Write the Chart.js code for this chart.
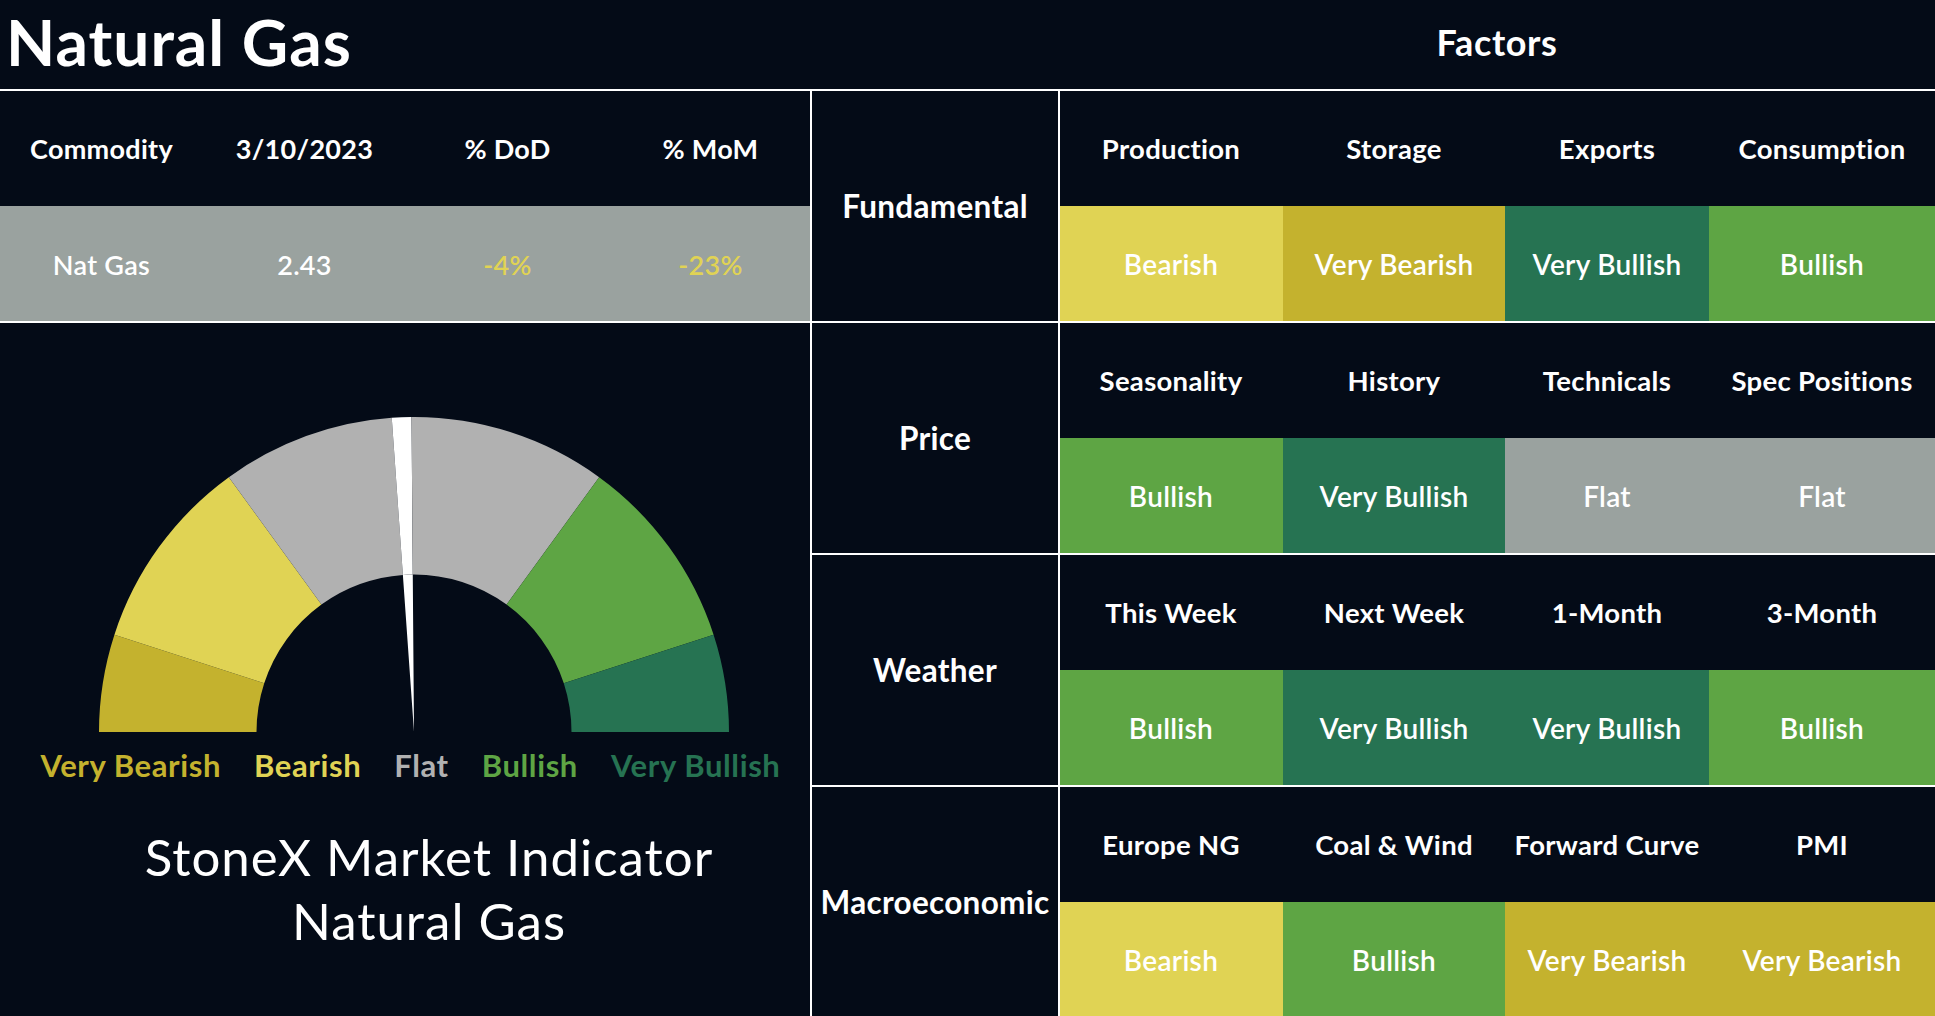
<!DOCTYPE html>
<html>
<head>
<meta charset="utf-8">
<script src="https://cdn.jsdelivr.net/npm/chart.js@4.4.0/dist/chart.umd.min.js"></script>
<style>
html, body { margin: 0; padding: 0; background: #040b17; }
body { width: 1935px; height: 1016px; position: relative; overflow: hidden;
       font-family: Lato, 'Open Sans', sans-serif; color: #fff; }
.cell { position: absolute; display: flex; align-items: center; justify-content: center;
        text-align: center; white-space: nowrap; letter-spacing: 0.3px; }
.line { position: absolute; background: #fff; }
#title { position: absolute; left: 6px; top: 10px; font-size: 64px; line-height: 64px;
         font-weight: 700; letter-spacing: 1px; }
#gaugeBox { position: absolute; left: 99px; top: 417px; width: 630px; height: 315px; }
#gaugeLabels { position: absolute; left: 0; top: 745px; width: 821px; height: 40px;
               display: flex; justify-content: center; align-items: center; gap: 33px;
               font-size: 31px; font-weight: 700; letter-spacing: 0.6px; }
#caption { position: absolute; left: 29px; width: 800px; top: 825px; text-align: center;
           font-size: 51px; line-height: 64px; font-weight: 400; letter-spacing: 1px; }
</style>
</head>
<body>
<div id="title">Natural Gas</div>
<div id="gaugeBox"><canvas id="gauge"></canvas></div>
<div id="gaugeLabels"></div>
<div id="caption">StoneX Market Indicator<br>Natural Gas</div>
<script>
// commodity table
var tableHead = ['Commodity', '3/10/2023', '% DoD', '% MoM'];
var tableRow = ['Nat Gas', '2.43', '-4%', '-23%'];

// factor grid
var categories = ['Fundamental', 'Price', 'Weather', 'Macroeconomic'];
var factorNames = [
  ['Production', 'Storage', 'Exports', 'Consumption'],
  ['Seasonality', 'History', 'Technicals', 'Spec Positions'],
  ['This Week', 'Next Week', '1-Month', '3-Month'],
  ['Europe NG', 'Coal & Wind', 'Forward Curve', 'PMI']
];
var factorSignals = [
  ['Bearish', 'Very Bearish', 'Very Bullish', 'Bullish'],
  ['Bullish', 'Very Bullish', 'Flat', 'Flat'],
  ['Bullish', 'Very Bullish', 'Very Bullish', 'Bullish'],
  ['Bearish', 'Bullish', 'Very Bearish', 'Very Bearish']
];

// gauge
var zoneLabels = ['Very Bearish', 'Bearish', 'Flat', 'Bullish', 'Very Bullish'];
var zoneSizes = [10, 20, 40, 20, 10];
var needleAt = 48.75;
var needleWidth = 2;

var zoneColors = ['#c4b22e', '#e0d354', '#b1b1b1', '#5ea544', '#267352'];
var signalColors = {
  'Very Bearish': '#c4b22e', 'Bearish': '#e0d354', 'Flat': '#9aa29f',
  'Bullish': '#5ea544', 'Very Bullish': '#267352'
};

function box(left, top, w, h, text, css) {
  var d = document.createElement('div');
  d.className = 'cell';
  d.style.left = left + 'px'; d.style.top = top + 'px';
  d.style.width = w + 'px'; d.style.height = h + 'px';
  d.textContent = text;
  for (var k in (css || {})) d.style[k] = css[k];
  document.body.appendChild(d);
  return d;
}
function line(left, top, w, h) {
  var d = document.createElement('div');
  d.className = 'line';
  d.style.left = left + 'px'; d.style.top = top + 'px';
  d.style.width = w + 'px'; d.style.height = h + 'px';
  document.body.appendChild(d);
}

// left table
var colW = 203;
tableHead.forEach(function (t, i) {
  box(i * colW, 91, colW, 115, t, { fontSize: '27px', fontWeight: 700 });
});
box(0, 206, 811, 116, '', { background: '#9aa29f' });
tableRow.forEach(function (t, i) {
  box(i * colW, 206, colW, 116, t, {
    fontSize: '27px', fontWeight: 600,
    color: t.charAt(0) === '-' ? '#e0d354' : '#fff'
  });
});

// right grid
box(1059, -3, 876, 90, 'Factors', { fontSize: '36px', fontWeight: 700, letterSpacing: '0.6px' });
var colX = [1059, 1283, 1505, 1709, 1935];
categories.forEach(function (c, r) {
  var top = 90 + r * 232;
  box(811, top, 248, 232, c, { fontSize: '31.5px', fontWeight: 700 });
  for (var j = 0; j < 4; j++) {
    var w = colX[j + 1] - colX[j];
    box(colX[j], top, w, 116, factorNames[r][j], { fontSize: '27.5px', fontWeight: 700 });
    box(colX[j], top + 116, w, 116, factorSignals[r][j], {
      fontSize: '28px', fontWeight: 600, background: signalColors[factorSignals[r][j]]
    });
  }
});

// grid lines
line(0, 89, 1935, 2);
line(0, 321, 1935, 2);
line(811, 553, 1124, 2);
line(811, 785, 1124, 2);
line(810, 89, 2, 927);
line(1058, 89, 2, 927);

// gauge labels
var lab = document.getElementById('gaugeLabels');
zoneLabels.forEach(function (t, i) {
  var s = document.createElement('span');
  s.textContent = t;
  s.style.color = zoneColors[i];
  lab.appendChild(s);
});

// gauge rings: outer = zones (split where the needle sits), inner = needle only
var n0 = needleAt - needleWidth / 2, n1 = needleAt + needleWidth / 2;
var outerData = [], outerColors = [], pos = 0, total = 0;
zoneSizes.forEach(function (size, i) {
  var end = pos + size;
  if (n0 >= pos && n1 <= end) {
    outerData.push(n0 - pos, needleWidth, end - n1);
    outerColors.push(zoneColors[i], '#ffffff', zoneColors[i]);
  } else {
    outerData.push(size);
    outerColors.push(zoneColors[i]);
  }
  pos = end;
});
total = pos;

new Chart(document.getElementById('gauge'), {
  type: 'doughnut',
  data: {
    datasets: [
      { data: outerData, backgroundColor: outerColors, borderWidth: 0 },
      { data: [n0, needleWidth, total - n1],
        backgroundColor: ['rgba(0,0,0,0)', '#ffffff', 'rgba(0,0,0,0)'], borderWidth: 0 }
    ]
  },
  options: {
    responsive: true,
    maintainAspectRatio: false,
    animation: false,
    rotation: -90,
    circumference: 180,
    cutout: 0,
    layout: { padding: 0 },
    plugins: { legend: { display: false }, tooltip: { enabled: false } },
    events: []
  }
});
</script>
</body>
</html>
